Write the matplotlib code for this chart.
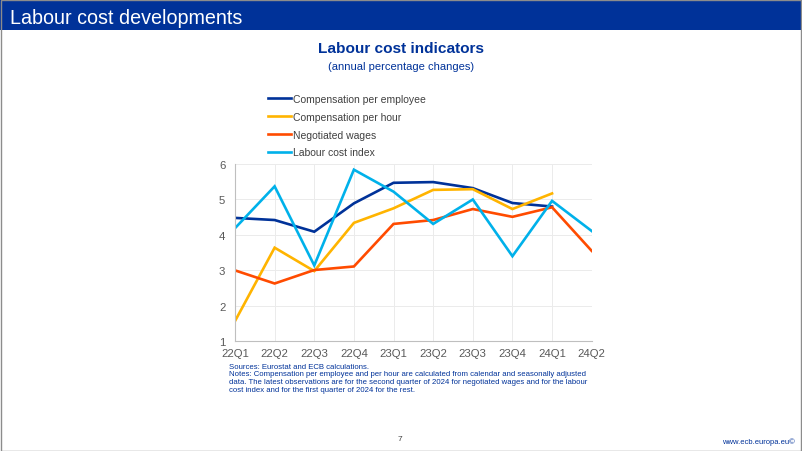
import matplotlib
matplotlib.use("Agg")
import matplotlib.pyplot as plt
from matplotlib.patches import Rectangle

plt.rcParams['font.family'] = ['Liberation Sans', 'DejaVu Sans']

quarters = ["22Q1", "22Q2", "22Q3", "22Q4", "23Q1", "23Q2", "23Q3", "23Q4", "24Q1", "24Q2"]
comp_per_employee = [4.48, 4.42, 4.09, 4.89, 5.47, 5.49, 5.32, 4.90, 4.80, None]
comp_per_hour = [1.57, 3.64, 2.98, 4.34, 4.75, 5.27, 5.29, 4.73, 5.17, None]
negotiated_wages = [3.00, 2.63, 3.01, 3.11, 4.31, 4.42, 4.73, 4.51, 4.78, 3.55]
labour_cost_index = [4.19, 5.37, 3.14, 5.84, 5.22, 4.31, 5.00, 3.40, 4.96, 4.11]

series = [
    ("Compensation per employee", comp_per_employee, "#003299"),
    ("Compensation per hour", comp_per_hour, "#FFB400"),
    ("Negotiated wages", negotiated_wages, "#FF4B00"),
    ("Labour cost index", labour_cost_index, "#00B1EA"),
]

W, H = 802, 452
fig = plt.figure(figsize=(W / 100, H / 100), dpi=100)
fig.patch.set_facecolor("white")

# header bar
fig.patches.append(Rectangle((0, 1 - 31 / H), 1, 31 / H, transform=fig.transFigure,
                             facecolor="#003299", edgecolor="none", zorder=0))
fig.text(10 / W, 1 - 18 / H, "Labour cost developments", color="white", fontsize=14.2,
         ha="left", va="center")
# border
fig.patches.append(Rectangle((0.5 / W, 0.5 / H), 1 - 1.5 / W, 1 - 1.5 / H, transform=fig.transFigure,
                             facecolor="none", edgecolor="#8c8c8c", linewidth=1, zorder=5))

# titles
fig.text(401 / W, 1 - 49 / H, "Labour cost indicators", color="#003299", fontsize=11.1,
         fontweight="bold", ha="center", va="center")
fig.text(401 / W, 1 - 67 / H, "(annual percentage changes)", color="#003299", fontsize=8,
         ha="center", va="center")

ax = fig.add_axes([235 / W, 1 - 342.3 / H, (591.7 - 235) / W, (342.3 - 165) / H])
x = list(range(len(quarters)))
for name, vals, col in series:
    xs = [i for i, v in zip(x, vals) if v is not None]
    ys = [v for v in vals if v is not None]
    ax.plot(xs, ys, color=col, linewidth=1.9, label=name, solid_joinstyle="miter")

ax.set_xlim(0, len(quarters) - 1)
ax.set_ylim(1, 6)
ax.set_xticks(x)
ax.set_xticklabels(quarters)
ax.set_yticks([1, 2, 3, 4, 5, 6])
ax.grid(True, color="#ebebeb", linewidth=0.7)
ax.set_axisbelow(True)
for s in ["top", "right"]:
    ax.spines[s].set_visible(False)
for s in ["left", "bottom"]:
    ax.spines[s].set_color("#bfbfbf")
    ax.spines[s].set_linewidth(0.8)
ax.tick_params(axis="both", length=0, labelsize=8.2, colors="#595959")
ax.tick_params(axis="y", pad=7)
ax.tick_params(axis="x", pad=5)

leg = ax.legend(loc="upper left", bbox_to_anchor=(268 / W, 1 - 95 / H),
                bbox_transform=fig.transFigure, frameon=False, fontsize=7.5,
                handlelength=2.2, handletextpad=0.2, labelspacing=0.75, borderpad=0,
                borderaxespad=0)
for t in leg.get_texts():
    t.set_color("#404040")

notes = ("Sources: Eurostat and ECB calculations.\n"
         "Notes: Compensation per employee and per hour are calculated from calendar and seasonally adjusted\n"
         "data. The latest observations are for the second quarter of 2024 for negotiated wages and for the labour\n"
         "cost index and for the first quarter of 2024 for the rest.")
fig.text(229 / W, 1 - 364 / H, notes, color="#003299", fontsize=5.55, ha="left", va="top",
         linespacing=1.1)

fig.text(400 / W, 1 - 440 / H, "7", color="#404040", fontsize=6, ha="center", va="center")
fig.text(795 / W, 1 - 442 / H, "www.ecb.europa.eu\u00a9", color="#003299", fontsize=5.5,
         ha="right", va="center")

fig.savefig("out.png", dpi=100, facecolor="white")
